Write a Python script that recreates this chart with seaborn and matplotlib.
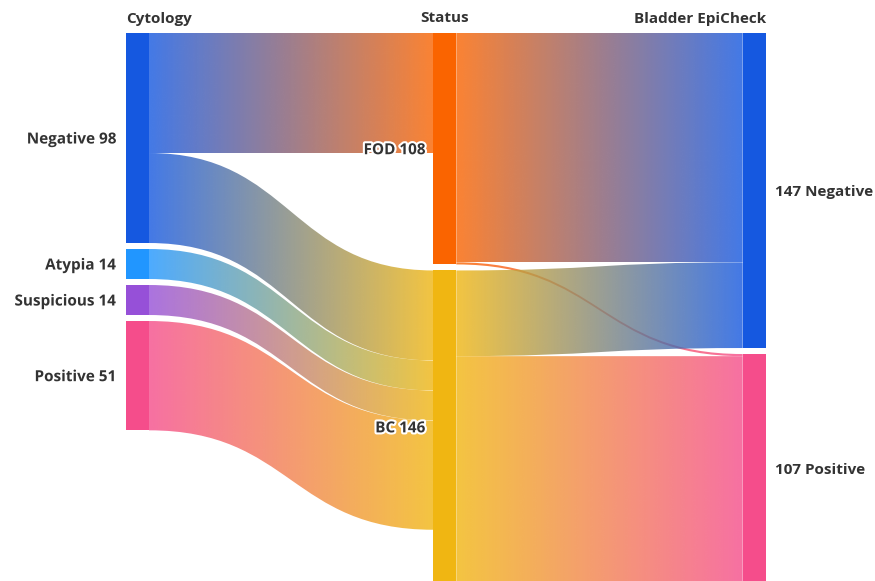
import numpy as np
import seaborn as sns
import matplotlib
matplotlib.use("Agg")
import matplotlib.pyplot as plt
from matplotlib.path import Path
from matplotlib.patches import PathPatch, Rectangle
from matplotlib.colors import to_rgb
import matplotlib.patheffects as pe

# ---------------- data ----------------
column_titles = ["Cytology", "Status", "Bladder EpiCheck"]

cyto_labels = ["Negative", "Atypia", "Suspicious", "Positive"]
cyto_values = [98, 14, 14, 51]

status_labels = ["FOD", "BC"]
status_values = [108, 146]

epi_labels = ["Negative", "Positive"]
epi_values = [147, 107]

# links cytology -> status
l1_src = ["Negative", "Negative", "Atypia", "Suspicious", "Positive"]
l1_tgt = ["FOD", "BC", "BC", "BC", "BC"]
l1_val = [56, 42, 14, 14, 51]

# links status -> bladder epicheck
l2_src = ["FOD", "FOD", "BC", "BC"]
l2_tgt = ["Negative", "Positive", "Negative", "Positive"]
l2_val = [107, 1, 40, 106]

cyto_colors = ["#1558E0", "#2196FF", "#9650D8", "#F54D8B"]
status_colors = ["#FA6400", "#F0B612"]
epi_colors = ["#1558E0", "#F54D8B"]

# ---------------- style ----------------
sns.set_theme(style="white")
plt.rcParams["font.family"] = ["Open Sans", "DejaVu Sans"]

W, H = 875, 581
fig = plt.figure(figsize=(W / 100, H / 100), dpi=100)
ax = fig.add_axes([0, 0, 1, 1])
PX = 2.143           # pixels per unit
TOP = 33 / PX        # top margin in units
GAP = 6 / PX
ax.set_xlim(0, W)
ax.set_ylim((H - 33) / PX, -TOP)
ax.axis("off")

col_x = [126, 433.3, 742.7]
NODE_W = 23
ALPHA = 0.8
TXT = "#333333"


def layout(values):
    tops, y = [], 0.0
    for v in values:
        tops.append(y)
        y += v + GAP
    return tops


cols = [
    dict(labels=cyto_labels, values=cyto_values, colors=cyto_colors, tops=layout(cyto_values)),
    dict(labels=status_labels, values=status_values, colors=status_colors, tops=layout(status_values)),
    dict(labels=epi_labels, values=epi_values, colors=epi_colors, tops=layout(epi_values)),
]


def draw_link(x0, x1, y0t, y0b, y1t, y1b, c0, c1):
    xm = (x0 + x1) / 2
    verts = [(x0, y0t), (xm, y0t), (xm, y1t), (x1, y1t), (x1, y1b),
             (xm, y1b), (xm, y0b), (x0, y0b), (x0, y0t)]
    codes = [Path.MOVETO, Path.CURVE4, Path.CURVE4, Path.CURVE4, Path.LINETO,
             Path.CURVE4, Path.CURVE4, Path.CURVE4, Path.CLOSEPOLY]
    path = Path(verts, codes)
    patch = PathPatch(path, facecolor="none", edgecolor="none")
    ax.add_patch(patch)
    t = np.linspace(0, 1, 256)[None, :, None]
    a = np.array(to_rgb(c0))[None, None, :]
    b = np.array(to_rgb(c1))[None, None, :]
    rgb = a * (1 - t) + b * t
    img = np.concatenate([rgb, np.full((1, 256, 1), ALPHA)], axis=2)
    ymin = min(y0t, y1t)
    ymax = max(y0b, y1b)
    im = ax.imshow(img, extent=[x0, x1, ymax, ymin], aspect="auto",
                   interpolation="bilinear", zorder=1)
    im.set_clip_path(patch)


def draw_links(ci, src, tgt, val):
    sc, tc = cols[ci], cols[ci + 1]
    out_off = [0.0] * len(sc["values"])
    in_off = [0.0] * len(tc["values"])
    for s, t, v in zip(src, tgt, val):
        si = sc["labels"].index(s)
        ti = tc["labels"].index(t)
        y0t = sc["tops"][si] + out_off[si]
        y1t = tc["tops"][ti] + in_off[ti]
        out_off[si] += v
        in_off[ti] += v
        draw_link(col_x[ci] + NODE_W, col_x[ci + 1], y0t, y0t + v, y1t, y1t + v,
                  sc["colors"][si], tc["colors"][ti])


draw_links(0, l1_src, l1_tgt, l1_val)
draw_links(1, l2_src, l2_tgt, l2_val)

halo = [pe.withStroke(linewidth=3, foreground="white")]
FS = 11
DY = 1.5 / PX
for ci, c in enumerate(cols):
    for lab, v, col, top in zip(c["labels"], c["values"], c["colors"], c["tops"]):
        ax.add_patch(Rectangle((col_x[ci], top), NODE_W, v, facecolor=col,
                               edgecolor="none", zorder=2))
        yc = top + v / 2 + DY
        if ci == 0:
            ax.text(col_x[ci] - 10, yc, f"{lab} {v}", ha="right", va="center",
                    fontsize=FS, fontweight="bold", color=TXT, zorder=3, path_effects=halo)
        elif ci == 1:
            ax.text(col_x[ci] - 8, yc, f"{lab} {v}", ha="right", va="center",
                    fontsize=FS, fontweight="bold", color=TXT, zorder=3, path_effects=halo)
        else:
            ax.text(col_x[ci] + NODE_W + 9, yc, f"{v} {lab}", ha="left", va="center",
                    fontsize=FS, fontweight="bold", color=TXT, zorder=3)

ty = -TOP + 18.5 / PX
ax.text(col_x[0], ty, column_titles[0], ha="left", va="center", fontsize=FS,
        fontweight="bold", color=TXT)
ax.text(col_x[1] + NODE_W / 2, ty, column_titles[1], ha="center", va="center",
        fontsize=FS, fontweight="bold", color=TXT)
ax.text(col_x[2] + NODE_W, ty, column_titles[2], ha="right", va="center",
        fontsize=FS, fontweight="bold", color=TXT)

fig.savefig("out.png", dpi=100)
